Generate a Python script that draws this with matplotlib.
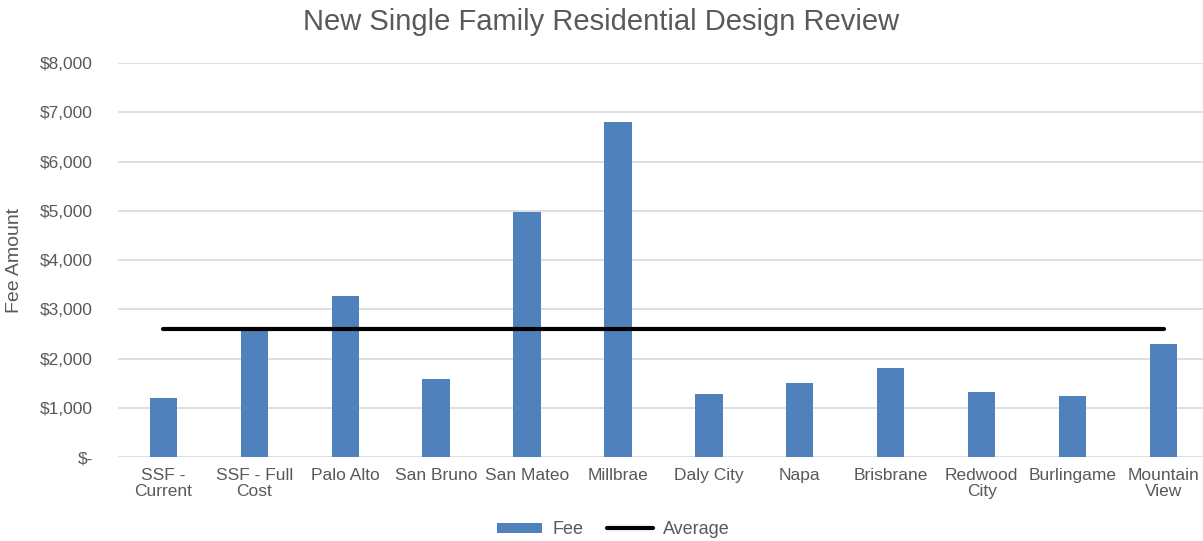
import matplotlib.pyplot as plt
import numpy as np
from matplotlib.ticker import FuncFormatter

# Dados
cidades = ["SSF -\nCurrent", "SSF - Full\nCost", "Palo Alto", "San Bruno", "San Mateo",
           "Millbrae", "Daly City", "Napa", "Brisbrane", "Redwood\nCity",
           "Burlingame", "Mountain\nView"]
taxas = [1200, 2590, 3270, 1580, 4970, 6800, 1275, 1500, 1800, 1320, 1235, 2305]
media = [2600] * len(cidades)

plt.rcParams['font.family'] = ['Liberation Sans', 'DejaVu Sans']
CINZA = "#595959"

fig = plt.figure(figsize=(12.03, 5.41), dpi=100)
ax = fig.add_axes([0.098, 0.155, 0.907, 0.7285])

x = np.arange(len(cidades))
barras = ax.bar(x, taxas, width=0.3, color="#4F81BD", label="Fee", zorder=2)
linha, = ax.plot(x, media, color="black", linewidth=3, label="Average", zorder=3,
                 solid_capstyle="round")

ax.set_xlim(-0.5, len(cidades) - 0.5)
ax.set_ylim(0, 8000)
ax.set_yticks(np.arange(0, 8001, 1000))
ax.yaxis.set_major_formatter(FuncFormatter(lambda v, p: "$-" if v == 0 else f"${v:,.0f}"))
ax.set_xticks(x)
ax.set_xticklabels(cidades, linespacing=1.05)

ax.grid(axis="y", color="#D9D9D9", linewidth=1.2, zorder=0)
for s in ax.spines.values():
    s.set_visible(False)
ax.tick_params(axis="both", length=0, colors=CINZA, labelsize=12.5)
ax.tick_params(axis="y", pad=18)
ax.tick_params(axis="x", pad=8)

ax.set_ylabel("Fee Amount", fontsize=14, color=CINZA, labelpad=6)
ax.yaxis.set_label_coords(-0.087, 0.5)
fig.suptitle("New Single Family Residential Design Review", fontsize=21,
             color=CINZA, y=0.985)

leg = fig.legend([barras, linha], ["Fee", "Average"], loc="lower center",
                 bbox_to_anchor=(0.51, -0.025), ncol=2, frameon=False, fontsize=13,
                 handlelength=2.5, handleheight=0.5, columnspacing=1.3,
                 handletextpad=0.6)
for t in leg.get_texts():
    t.set_color(CINZA)

fig.savefig("out.png", dpi=100)
